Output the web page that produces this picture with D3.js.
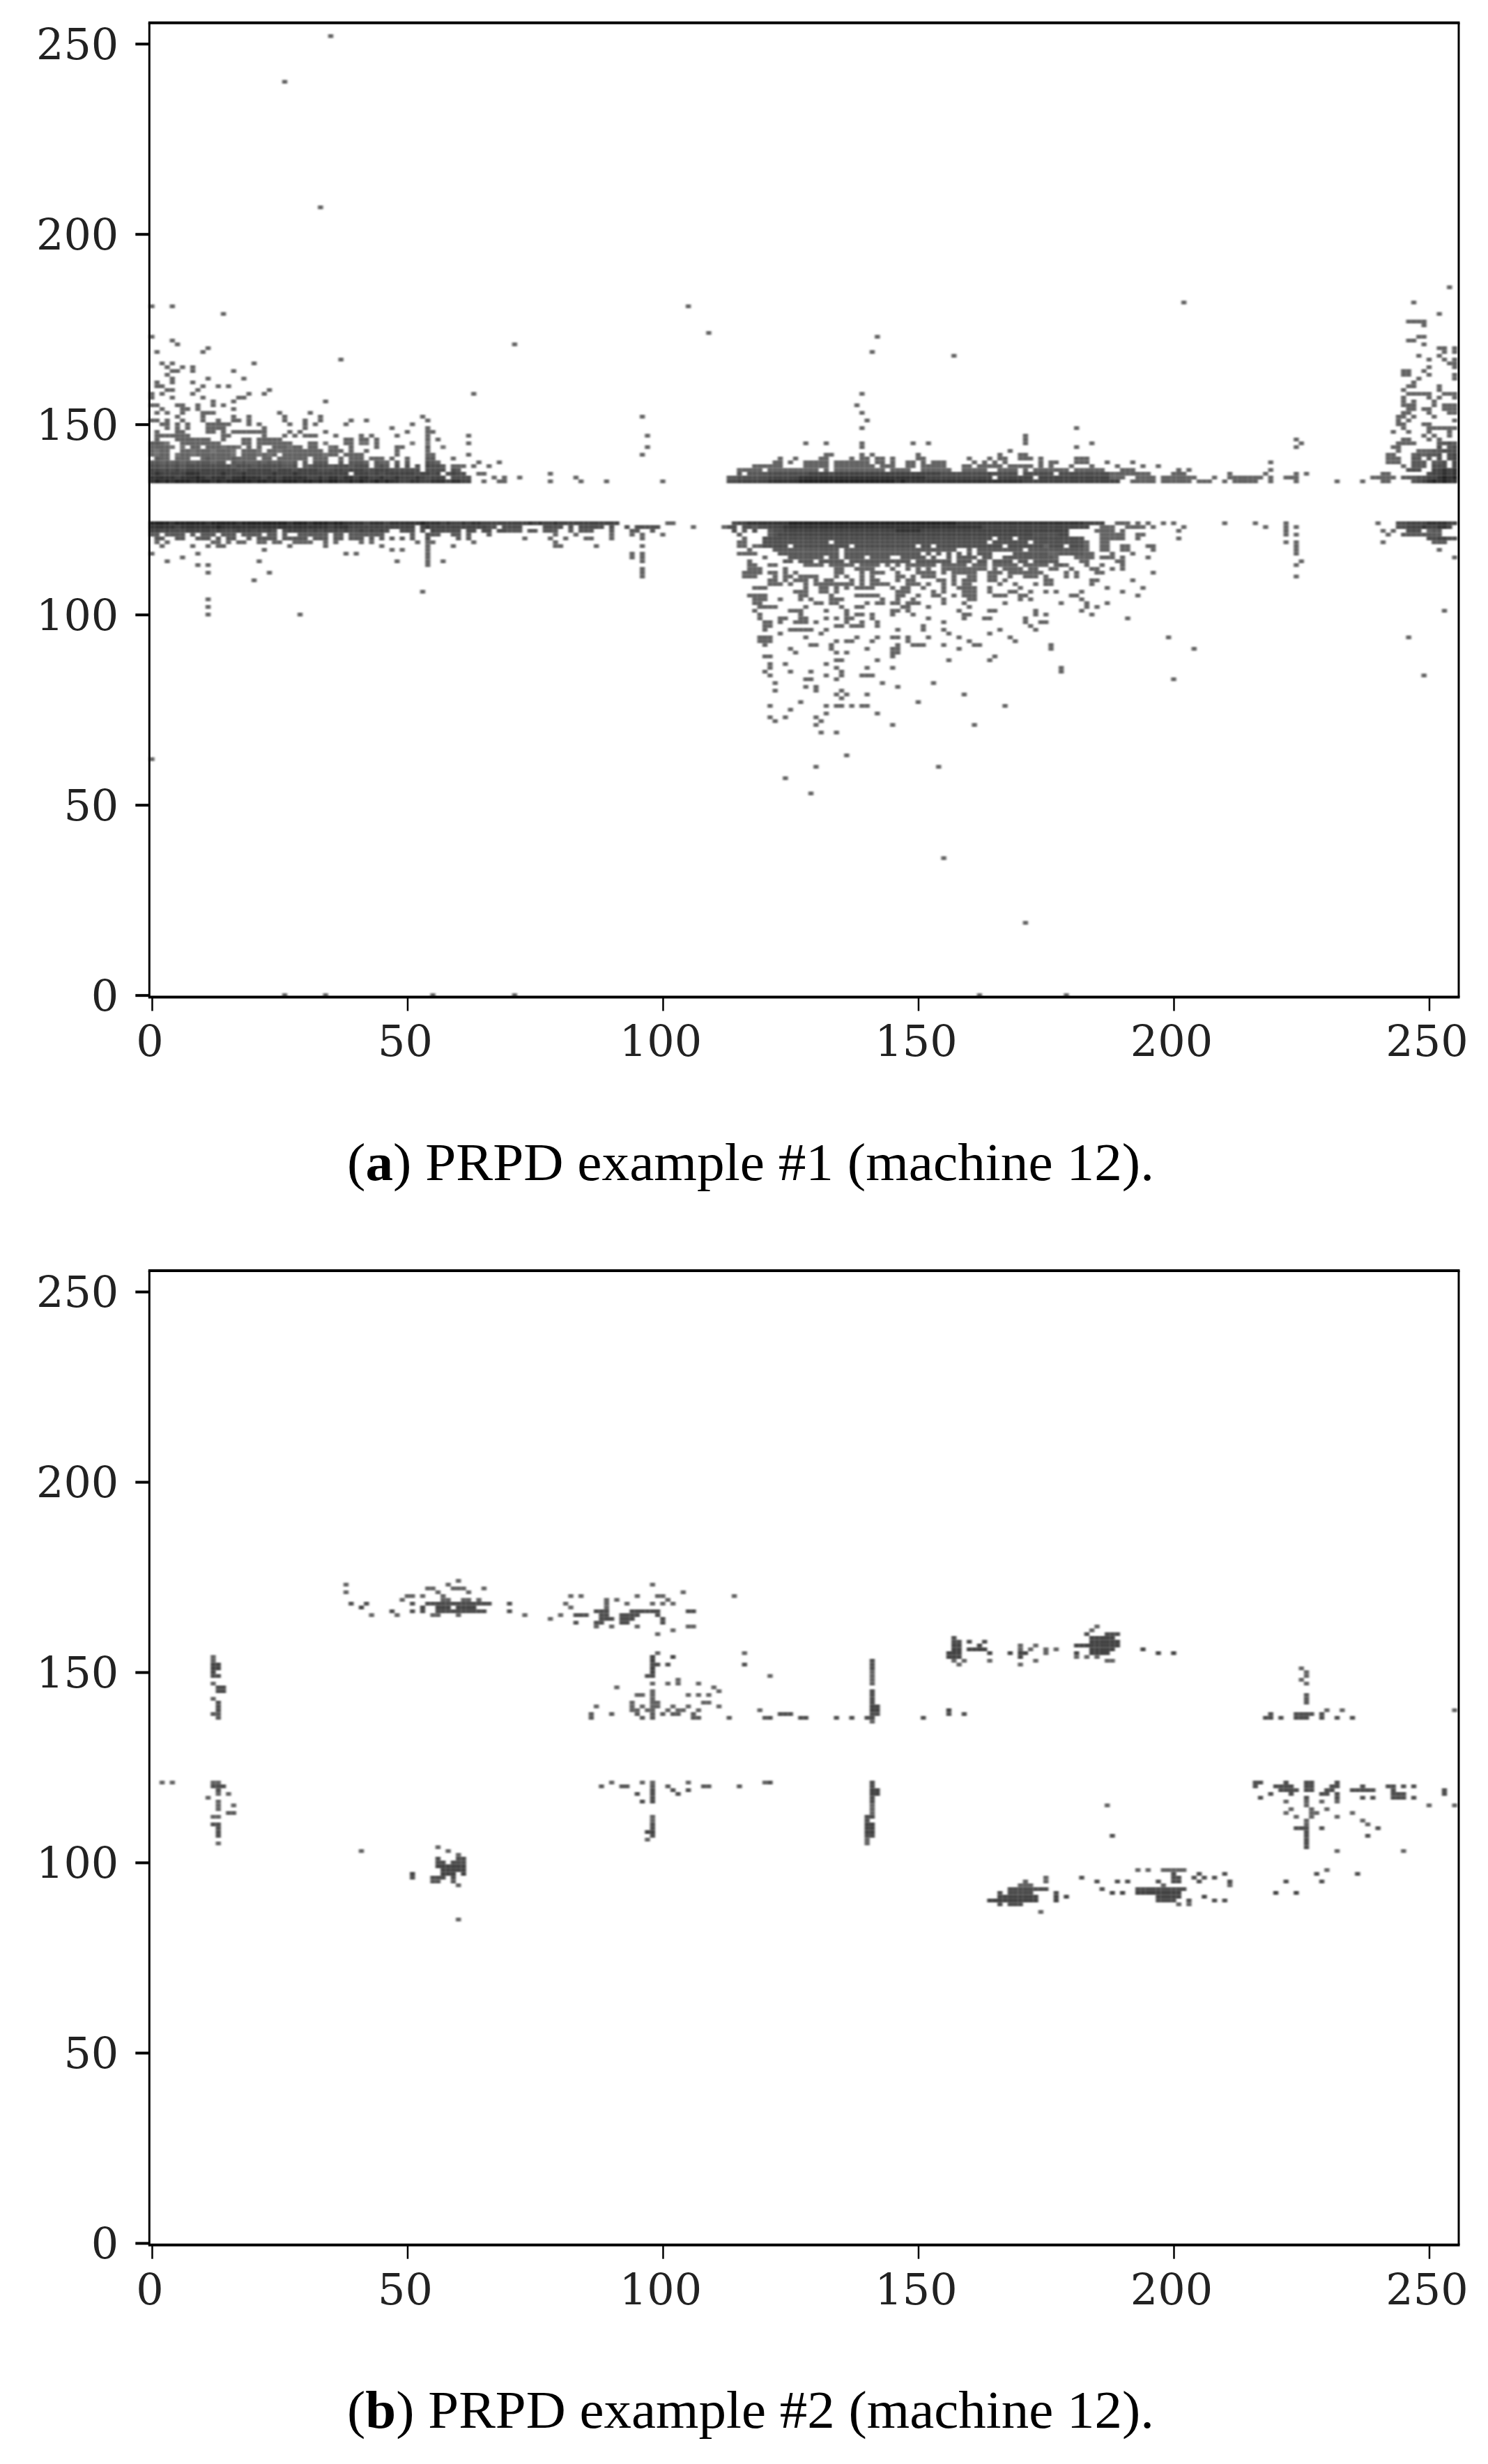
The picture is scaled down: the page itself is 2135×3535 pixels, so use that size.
<!DOCTYPE html>
<html><head><meta charset="utf-8">
<style>html,body{margin:0;background:#fff}svg{display:block}</style>
<script src="https://cdn.jsdelivr.net/npm/d3@7"></script></head><body>
<script>
const xTicks=[0,50,100,150,200,250], yTicks=[0,50,100,150,200,250];
const captionA=["(","a",") PRPD example #1 (machine 12)."];
const captionB=["(","b",") PRPD example #2 (machine 12)."];

// PANEL A: [row, first column, grey levels 0-9]
const aUpperBandLeft=[
[135,0,"8989899989 9989899999 8998989998 9989899889 8988989887 7887788878 877"],
[136,0,"8888878889 8788878898 8878878888 8778788788 7887787787 7787677706 666"],
[137,0,"7877777888 7777877787 7777877787 7777777770 7776767777 7767767067 66"],
[138,0,"7767676777 7777777667 7777677767 7776667767 7766777666 6660666606 5"],
[139,0,"6656565666 6666665666 5666665560 5566656665 6660565060 6060766504 44"],
[140,0,"5545454545 5545505454 4545454450 5055500505 5540544050 5000654"],
[141,0,"0544044400 4544445444 4044044444 4044400404 4404440400 4000550"],
[142,0,"4344034434 4444443044 4343404444 4444344044 4400000040 0000440"],
[143,0,"4344004434 4434443044 4304434444 4444044404 0040000040 0000400"],
[144,0,"4444303044 0444344304 0400444344 0440034004 0000400044 0000500300"],
[145,0,"5543004444 4444000044 0444444400 0440300044 0330400000 0300300000 0030"]];
const aLowerBandLeft=[
[124,0,"9999899999 9899999899 9999999899 9899989988 8878887888 8889888787 7878877777 7777878778 7777777777 77"],
[123,0,"8888878888 8889888888 8888888888 8888878887 7777777777 7707877777 7777776606 6660000666 6060666660 6006066666"],
[122,0,"7767666777 7767666777 6767606777 7676767676 6767676006 6606076666 6066066066 5550550555 0050555000 5000550050"],
[121,0,"5505555050 5550555055 5505505005 5555505505 5555550000 0500655005 5050005000"],
[120,0,"0550055005 5505055005 0555505555 5055505505 5505050505 0500600000 5050000000"]];
const aUpperBandMiddle=[
[135,113,"6677777788 8888999999 9999999999 9998988888 8888888888 8888888877 7777777777 7777777"],
[136,113,"5566666677 7777888888 8888888888 8888888887 7777777777 7707777777 0777777777 77777"],
[137,115,"5055556666 6666777767 7777777777 7777777777 6666666667 6666606666 6606666666 666"]];
const aLowerBandMiddle=[
[124,114,"6778888888 8999999999 9999999999 9999999999 9999888888 8888888888 8888888887 777"],
[123,113,"6606656677 7888888888 8888888888 8888888888 8888888888 7777777777 7777777777 7"],
[122,113,"0605060056 6777777777 7777777777 7778888877 7777777777 7777777777 7777777"],
[121,113,"0050000056 7777777777 7777777777 7777777777 7777777777 7777777777 6666677"],
[120,120,"6666666666 6666666666 6666666666 6666666666 6666606660 6666666666 666"],
[119,120,"6666666666 6660666666 6666666666 6666666666 6666066666 6606666666 666"],
[118,120,"6666606666 6666666066 6666666666 0660666666 6666666066 6666606660 666"],
[117,122,"5555555555 5550555555 5555555555 5555550050 5555555550 5555555555 5"],
[116,123,"5555555555 5505555555 5555555505 0505050505 5500005555 5550055555"],
[115,125,"5555555055 0555505555 0055555050 0505555055 0055555555 55"],
[114,124,"5505550555 5505555555 5555505555 5550555055 0555505505 5555"],
[113,128,"4444044444 0444404040 4444440444 4404440444 4404444404 5"]];
const aRightEdge=[
[145,252,"5565"],[144,252,"6056"],[143,248,"44455666"],[142,247,"454556067"],[141,247,"55050606 7"],
[140,247,"555055607 7"],[139,247,"5550666077"],[138,246,"6660077878"],[137,250,"677878"],
[136,245,"55566778989"],[135,247,"567898988"],[124,244,"667777888877 "],[123,244,"66777877887"],
[122,246,"666045500"],[121,245,"55555555"],[120,250,"667766"],[119,251,"555"]];
// sparse cells of panel A, [row,[columns]]
const aSparseUpperLeft=[[146,[1,5,6,7,8,9,10,11,14,18,19,21,22,23,24,25,38,39,41,42,44,54,56]],
[147,[1,2,3,4,5,6,7,14,15,22,26,28,30,31,32,36,41,43,48,54,62]],
[148,[1,5,6,11,12,14,16,17,18,19,20,21,22,27,29,34,50,54,55]],
[149,[3,5,7,11,12,13,14,22,30,47,54]],[150,[2,3,5,7,11,12,13,14,15,19,21,27,30,32,38,51]],
[151,[0,1,3,6,10,13,16,17,19,26,30,33,39,42,54]],[152,[5,10,16,19,26,33,53,96]],
[153,[1,3,6,10,11,12,25,31]],[154,[2,6,7,9,16]],[155,[0,1,5,6,9,12,14]],[156,[12,16,34]],
[157,[0,4,10,17,18]],[158,[0,2,8,19,22,63]],[159,[3,4,9,23]],[160,[1,2,10,13,15]],[161,[1,4,8]],
[162,[4,11,18]],[163,[3]],[164,[4,5,8,16]],[165,[3,6,8]],[166,[2,4,20]],[167,[37]],[169,[1,10]],
[170,[11]],[171,[5,71]],[172,[4]],[173,[0]],[174,[109]],[179,[14]],[181,[0,4,105]],
[207,[33]],[240,[26]],[252,[35]],
[147,[97]],[144,[97]],[142,[62,96]],[145,[62]],[141,[59]],[140,[64,68]],[139,[63,66]],
[137,[64,65,78]],[136,[67,69,72,83]],[135,[65,68,69,78,84,89,100]],[138,[59,60]]];
const aSparseLowerLeft=[[119,[1,3,12,13,15,17,18,21,22,24,25,28,29,30,31,34,36,41,43,52,54,55,63,79]],
[118,[2,8,11,13,14,27,34,45,54,59,79,80,87,96]],[117,[22,47,49,54]],[116,[0,9,38,40,54,94,96]],
[115,[6,54,94,96]],[114,[3,21,48,54,57,96]],[113,[9,11,54]],[112,[96]],[111,[11,23,96]],[110,[96]],
[109,[20]],[106,[53]],[104,[11]],[102,[11]],[100,[11,29]],
[120,[73,78,81,85,86,90,96]],[121,[79,83,90,94,96,100]],[123,[106,112]],[124,[101,102]],[122,[114]]];
const aSparseUpperMiddle=[[138,[115,116,117,118,119,121,122,123,124,125,126,127,128,129,130,132,134,135,136,137,138,139,140,141,142,143,145,146,147,148,151,152,153,154,155,156,159,160,161,162,163,166,167,168,169,171,173,174,175,176,177,178,179,181,182,183,184,185,186,190,191,192,201,203,219]],
[139,[118,119,120,121,122,123,128,129,130,131,132,134,135,136,137,138,139,140,141,143,144,145,148,149,151,152,153,154,155,159,160,162,163,164,165,166,168,169,170,171,172,174,176,180,184,189,194,197]],
[140,[122,123,125,128,129,130,131,132,134,135,136,137,138,139,140,142,143,145,148,149,151,153,154,155,161,163,165,167,174,176,177,181,182,183,187,192,219]],
[141,[123,126,131,132,137,139,140,142,143,145,150,151,160,164,166,167,170,171,172,174,181,182,183]],
[142,[132,133,139,141,150,166,170,171]],[143,[168]],[144,[139,181,224]],[145,[128,132,139,149,152,171,184,225]],
[146,[171,224]],[147,[171]],[149,[139,181]],[151,[140]],[153,[139]],[155,[138]],[158,[139]],[168,[157]],[169,[141]],[173,[142]],[182,[202]],
[135,[192,193,194,195,196,198,199,200,201,202,203,205,206,207,210,212,213,214,215,216,219,224,232,237,241,242]],
[136,[187,188,189,190,193,194,195,196,198,199,200,201,202,203,204,208,211,212,213,214,215,216,217,219,222,223,224,239,240,241,242,243]],
[137,[181,182,183,184,185,186,187,188,189,190,191,192,193,194,195,200,201,202,211,218,224,226,241,242]]];
const aSparseTail=[[71,[130,145,161]],[69,[131,134]],[72,[122,131]],[73,[121,124,130]],[74,[132,142]],[75,[125]],
[76,[121,132,134,135,137,139,140,167]],[77,[127,150]],[78,[135]],[79,[134,136,140,159]],[80,[122,130,135]],[81,[128,130,146]],
[82,[122,143,153]],[83,[128,129,134,200]],[84,[121,132,135,139,140,141,249]],[85,[120,125,129,135,178]],[86,[121,134,140,145,178]],
[87,[121,124,132]],[88,[134,135,142,156,164]],[89,[120,121,145,165]],[90,[126,134,136,145,146]],[91,[125,133,140,145,146,158,176,204]],
[92,[120,129,130,133,146,149,150,151,155,161,162,176]],[93,[119,120,121,134,136,137,141,148,160,169]],
[94,[119,120,121,128,138,142,145,146,148,152,158,168,199,246]],[95,[123,131,156,164]],
[96,[120,125,126,127,128,129,132,146,151,155,166,173]],[97,[120,121,134,135,137,138,139,142,151,172]],
[98,[120,121,123,126,127,128,130,136,139,142,155,171,174,175]],[99,[119,123,124,127,128,132,134,136,137,141,152,159,163,164,171,191]],
[100,[119,127,136,138,139,141,145,149,159,160,173,175,184]],[101,[118,125,126,127,132,136,145,146,148,158,164,165,173,182,253]],
[102,[119,120,121,122,128,135,138,139,147,148,152,160,183,185]],[103,[118,119,130,131,133,134,140,142,143,145,146,148,149,150,155,159,167,178,183,187]],
[104,[118,119,120,123,127,129,133,134,135,143,146,149,155,160,161,170,172,182]],
[105,[117,118,119,120,127,128,133,138,139,140,141,142,146,147,150,153,154,157,159,160,161,165,166,167,170,171,180,181,193]],
[106,[126,127,128,131,132,134,146,147,148,153,155,159,160,161,164,168,169,172,175,177,182,190]],
[107,[118,119,120,128,131,132,134,136,138,139,140,141,145,147,148,151,155,158,159,160,161,164,170,187,194]],
[108,[121,122,123,125,128,130,131,132,133,134,135,136,137,139,141,142,143,144,148,149,150,152,155,157,159,160,166,169,173,175,176,184]],
[109,[121,122,124,126,127,128,130,132,133,137,139,141,142,146,148,149,154,155,157,159,160,161,164,165,167,175,176,184,185,192]],
[110,[116,117,118,122,124,125,127,128,129,130,134,136,139,141,146,147,149,151,152,153,157,160,161,164,165,168,171,172,173,175,179,181,224]],
[111,[116,117,118,119,121,122,124,126,134,135,139,141,142,143,146,150,151,152,153,155,157,158,159,160,161,164,165,166,168,169,170,171,172,173,174,179,181,185,186,196]],
[112,[117,118,119,124,134,135,138,139,140,141,145,148,150,152,155,156,157,158,159,160,161,162,163,165,167,168,169,170,172,173,176,177,180,184,185,188,190]],
[113,[117,118,121,122,177,179,183,186,190,224]],[114,[117,177,182,183,189,190,225]],[115,[120,175,176,177,181,182,183,184,186,187,188,190,195]],
[116,[115,116,117,118,175,176,177,178,181,182,183,184,188,192,224]],[117,[117,175,176,178,181,182,183,186,187,190,191,196,224]],
[118,[115,116,118,119,175,176,178,181,182,183,186,187,190,191,195,196,224]],[119,[115,116,175,176,177,178,179,181,182,183,186,187,222,224]],
[120,[116,186,187,188,189,190,193,201]],[121,[115,186,187,188,189,190,193,194,222,224]],[122,[185,186,187,188,190,201,222]],
[123,[186,187,188,191,192,193,194,196,202,218,222,224]],[124,[189,190,191,193,195,198,200,210,216,222]],
[62,[0]],[63,[136]],[60,[130,154]],[57,[124]],[53,[129]],[36,[155]],[19,[171]],[0,[26,34,55,71,162,179]],
[186,[254]],[182,[247]],[179,[252]],[177,[246,247,248,249]],[176,[249]],[173,[248,249]],[172,[246,247]],[171,[249]],
[170,[252,253,255]],[169,[253,255]],[168,[248,252]],[167,[250,253,255]],[166,[254,255]],[165,[250,255]],[164,[245,246,249]],
[163,[245,246,250,255]],[162,[248,255]],[161,[247]],[160,[246,247,252]],[159,[245,252]],[158,[246,247,248,249,250,253,254,255]],
[157,[245,250,252,255]],[156,[245,247,251]],[155,[245,246,247,251,253,254,255]],[154,[246,247,249,250,253,254,255]],
[153,[245,246,250,254,255]],[152,[244,245,247,251]],[151,[244,246,255]],[150,[244,245,249,250]],[149,[245,250,251,252,253,254,255]],
[148,[243,246,250,254]],[147,[249,251,254]],[146,[245,246,250,252]],[145,[244,245,246,247]],[144,[243,244]],[143,[244]],
[142,[242,243]],[141,[242,243,244]],[140,[242,243,244]],[139,[245]],[138,[247]],[137,[242]],[136,[241,243]],[135,[241,242]],
[124,[240]],[122,[241,243]],[121,[242]],[119,[241]],[117,[252]],[115,[255]]];

// PANEL B clusters: [row,[columns],level]
const bCol13=[[154,[12]],[153,[12]],[152,[12,13],7],[151,[12,13],7],[150,[12],7],[149,[12,13],6],[147,[12]],[146,[13,14],6],[145,[13,14],6],[143,[12]],[142,[13],6],[141,[13],6],[140,[13],6],[139,[12,13],5],[138,[13],5],
[121,[2,4,12,13]],[120,[12,13,14],6],[119,[13],6],[118,[13,15]],[117,[11]],[116,[13]],[115,[13,16]],[114,[13]],[113,[15,16],5],[112,[12,13]],[110,[12,13],6],[109,[13],6],[108,[13],6],[107,[13],6],[105,[13]]];
const bTop60=[[174,[60]],[173,[38,58]],[172,[54,55,59,60,61,65]],[171,[38,56,62]],[170,[50,51,53,57]],[169,[49,57,58,61,62,64]],
[168,[39,42,51,54,55,56,57,58,59,60,61,62,63,64,65,66,70],6],[167,[41,53,56,57,58,60,61,62,63],7],[166,[47,51,53,56,57,58,59,60,61,62,63,64,65,70],6],[165,[43,48,55,56,60,73,80]],[164,[78]]];
const bTop95=[[173,[98]],[171,[104]],[170,[82,84,95,99,100,114]],[169,[89,91,101]],[168,[81,89,93,98,100,102]],[167,[82,89]],
[166,[87,88,89,94,95,96,97,98,99,105,106],6],[165,[83,84,85,88,89,92,93,94,95,99],6],[164,[88,89,90,92,93,94,100],6],[163,[83,87,88,92,93,100],6],[162,[87,90,95,105,106]],[161,[102]],[160,[99]]];
const bCol98=[[155,[99,116]],[154,[98,102],7],[153,[98],7],[152,[98,99,101,116],6],[151,[98],7],[150,[98],7],[149,[97,98],6],[148,[103]],[147,[98,101,103,107]],[146,[91,110]],[145,[98,111]],
[144,[95,96,98,105,107,109]],[143,[98]],[142,[94,98,99,108,109]],[141,[87,94,96,98,99,102,105,111]],[140,[94,95,97,98,101,103,104,107,119]],[139,[86,90,95,98,100,102,103,106],5],[138,[86,96,98,106,107,113,120],5],
[121,[90,96,98,105,120]],[120,[88,92,93,98,101,108,109,115],5],[119,[98,102,105],6],[118,[95,98,103],6],[117,[98],6],[116,[96,98],6],[112,[98]],[111,[98]],[110,[98],6],[109,[98],6],[108,[97,98],7],[107,[98],6],[106,[97]]];
const bCol141=[[153,[141],6],[152,[141],6],[151,[141],6],[150,[141]],[149,[121,141]],[148,[141]],[147,[141]],[145,[141],6],[144,[141],6],[143,[141],6],[142,[141],6],[141,[141,142],7],[140,[141,142,156],7],[139,[123,124,125,141,142,156,159],6],[138,[121,127,128,134,137,140,141,151],6],[137,[141]],
[121,[121,141],6],[120,[141],6],[119,[141,142],7],[118,[141,142],7],[117,[141],6],[116,[141],6],[115,[141]],[114,[141]],[113,[141]],[112,[140,141],6],[111,[140],6],[110,[140,141],7],[109,[140,141],7],[108,[140,141],7],[107,[140,141],6],[106,[140]],[105,[140]]];
const bCluster157=[[159,[157],6],[158,[157,158,160,163],6],[157,[157,158,162],7],[156,[157,158,160,161,162,163],7],[155,[156,157,158,164,168,170,171],7],[154,[156,157,158,170],7],[153,[157,159,164,173]],[152,[158,170]],[157,[170,173]],[156,[170,172,175,177]],[155,[175]]];
const bCluster186=[[162,[185]],[161,[184]],[160,[183,187,188,189],6],[159,[184,185,186,187,188],7],[158,[184,185,186,187,188,189],7],[157,[181,182,183,184,185,186,187,188,189],7],[156,[184,185,186,187,188,194],7],[155,[181,184,185,186,187,197,200],7],[154,[181,183,185]],[153,[187,188]]];
const bCol225=[[151,[225]],[150,[226]],[149,[226]],[148,[225]],[147,[226]],[144,[226],5],[143,[226],5],[142,[226],5],[140,[230,233,255]],[139,[219,224,225,226,227,229],6],[138,[218,219,221,224,225,226,229,232,235],6]];
const bLower60=[[103,[41,58]],[104,[56]],[102,[60]],[101,[56,60,61],6],[100,[56,57,59,60,61],6],[99,[56,57,58,59,60,61],7],[98,[57,58,59,60,61],7],[97,[51,57,58,59,61],7],[96,[51,55,56,57,59],6],[95,[55,56,59],5],[94,[60]],[85,[60]]];
const bCluster170=[[96,[175]],[95,[171,175]],[94,[170,171,172]],[93,[168,169,170,171,172,173,174,175],6],[92,[166,168,169,170,171,172,177],6],[91,[166,167,168,169,170,171,172,173,177,179],7],[90,[164,165,166,167,168,169,170,171,172,173,177],7],[89,[166,168,169,170],6],[87,[174]]];
const bCluster200=[[98,[193,195,198,199,200,201,202,230]],[97,[200,205,210,228,236],6],[96,[182,200,201,204,206,208],6],[95,[185,189,191,197,200,201,205,211,222,229],6],[94,[198,211]],
[93,[186,193,194,195,196,197,198,199,200,201,202],6],[92,[188,190,193,194,195,196,197,198,199,200,201,220,224],7],[91,[197,198,199,200,201,206],7],[90,[197,198,199,200,203,208,210],6],[89,[201,203]]];
const bLowerRight=[[121,[216,217,222,226,227,232],6],[120,[216,220,221,222,223,226,227,231,232,237,242,243,245,247],6],[119,[221,222,223,224,226,227,230,231,235,236,237,238,239,243,253],6],[118,[219,223,229,230,232,243,244,245,253],6],[117,[217,226,232,237,239,243,244,245,247],6],
[116,[222,226,229,232]],[115,[187,226,250,255]],[114,[223,227,230]],[113,[222,227,228,235]],[112,[224,227,232]],[111,[226,237]],[110,[226,238]],[109,[224,225,226,229,240],6],[108,[226],6],[107,[188,226,238],6],[106,[226],6],[105,[226],6],[104,[226],6],[103,[232,245]]];

const aDense=[aUpperBandLeft,aLowerBandLeft,aUpperBandMiddle,aLowerBandMiddle,aRightEdge];
const aSparse=[aSparseUpperLeft,aSparseLowerLeft,aSparseUpperMiddle,aSparseTail];
const bClusters=[bCol13,bTop60,bTop95,bCol98,bCol141,bCluster157,bCluster186,bCol225,bLower60,bCluster170,bCluster200,bLowerRight];

function cellsFrom(dense,sparse){
  const m=new Map(), put=(c,r,l)=>{const k=c+"_"+r; if(!m.has(k)||m.get(k).l<l) m.set(k,{c,r,l});};
  dense.flat().forEach(([r,first,s])=>{[...s.replace(/ /g,"")].forEach((d,i)=>{if(d!=="0"&&first+i<=255)put(first+i,r,+d);});});
  sparse.flat().forEach(([r,cols,l])=>cols.forEach(c=>put(c,r,l||4)));
  return [...m.values()];
}
const W=2135,H=3535;
const svg=d3.select("body").append("svg").attr("width",W).attr("height",H);
const f=svg.append("defs").append("filter").attr("id","soft").attr("x","-2%").attr("y","-2%").attr("width","104%").attr("height","104%")
  .attr("color-interpolation-filters","sRGB");
f.append("feGaussianBlur").attr("stdDeviation","1.6 1.2");
const grey=d3.scaleLinear().domain([1,4,6,7,9]).range(["#909090","#626262","#4c4c4c","#424242","#202020"]);
const x=d3.scaleLinear().domain([-0.5,255.8]).range([214.3,2093]);

function panel(dy,cells,cap,capY){
  const y=d3.scaleLinear().domain([-0.5,255.5]).range([1430.4+dy,32.7+dy]);
  const w=x(1)-x(0),h=y(0)-y(1);
  svg.append("g").attr("filter","url(#soft)").selectAll("rect").data(cells).join("rect")
    .attr("x",d=>x(d.c-0.5)).attr("y",d=>y(d.r+0.5)).attr("width",w).attr("height",h).attr("fill",d=>grey(d.l));
  const frame=svg.append("g").attr("stroke","#000");
  frame.append("line").attr("x1",x.range()[0]-1.5).attr("x2",x.range()[1]+1.5).attr("y1",y(255.5)).attr("y2",y(255.5)).attr("stroke-width",4);
  frame.append("line").attr("x1",x.range()[0]-1.5).attr("x2",x.range()[1]+1.5).attr("y1",y(-0.5)).attr("y2",y(-0.5)).attr("stroke-width",4);
  frame.append("line").attr("x1",x.range()[0]).attr("x2",x.range()[0]).attr("y1",y(255.5)).attr("y2",y(-0.5)).attr("stroke-width",3);
  frame.append("line").attr("x1",x.range()[1]).attr("x2",x.range()[1]).attr("y1",y(255.5)).attr("y2",y(-0.5)).attr("stroke-width",3);
  const ax=svg.append("g").attr("transform",`translate(0,${y(-0.5)})`)
    .call(d3.axisBottom(x).tickValues(xTicks).tickSize(20).tickPadding(0));
  ax.select(".domain").remove();
  ax.selectAll("line").attr("stroke","#000").attr("stroke-width",2.5);
  ax.selectAll("text").attr("font-family","'DejaVu Serif'").attr("font-size",62).attr("fill","#222")
    .attr("dy",0).attr("y",85).attr("x",-3.5);
  const ay=svg.append("g").attr("transform",`translate(${x.range()[0]},0)`)
    .call(d3.axisLeft(y).tickValues(yTicks).tickSize(20).tickPadding(0));
  ay.select(".domain").remove();
  ay.selectAll("line").attr("stroke","#000").attr("stroke-width",4);
  ay.selectAll("text").attr("font-family","'DejaVu Serif'").attr("font-size",62).attr("fill","#222")
    .attr("dy",0).attr("x",-44).attr("y",21.5);
  const t=svg.append("text").attr("x",498).attr("y",capY).attr("font-family","'Liberation Serif'").attr("font-size",76).attr("fill","#000");
  cap.forEach((s,i)=>t.append("tspan").attr("font-weight",i===1?"bold":"normal").text(s));
  t.attr("textLength",1158).attr("lengthAdjust","spacingAndGlyphs");
}
panel(0,cellsFrom(aDense,aSparse),captionA,1693);
panel(1790.3,cellsFrom([],bClusters),captionB,3483);
</script></body></html>
